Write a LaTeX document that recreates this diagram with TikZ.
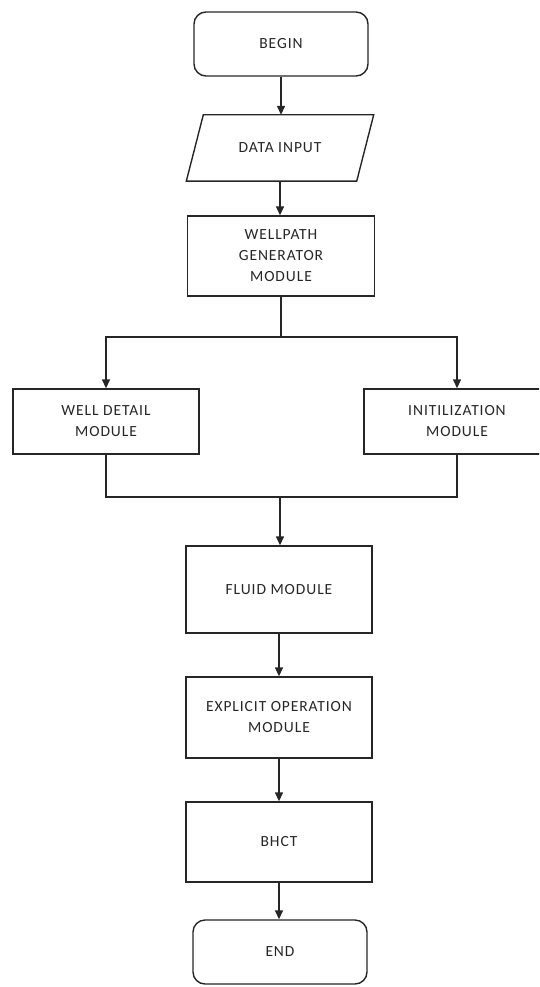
\documentclass[tikz,border=0pt]{standalone}
\usepackage{fontspec}
\setmainfont{Carlito}[LetterSpace=6]
\usetikzlibrary{arrows.meta}
\begin{document}
\begin{tikzpicture}[x=1pt,y=-1pt,
  every node/.style={font=\fontsize{15.5}{21}\selectfont, text=black!85, align=center, inner sep=0pt},
  box/.style={draw=black!85, line width=1.4pt, rectangle},
  term/.style={box, rounded corners=12pt},
  flow/.style={draw=black!85, line width=1.4pt, -{Triangle[width=8pt,length=9pt]}},
  link/.style={draw=black!85, line width=1.4pt}]
\useasboundingbox (0,0) rectangle (539,987);
\clip (0,0) rectangle (539,987);

% main column
\node[term, minimum width=174pt, minimum height=64pt] (begin) at (281,44) {BEGIN};
\node[minimum width=170pt, minimum height=66pt] (input) at (280,148) {DATA INPUT};
\draw[link, line join=miter] ([xshift=8.5pt]input.north west) -- ([xshift=8.5pt]input.north east)
  -- ([xshift=-8.5pt]input.south east) -- ([xshift=-8.5pt]input.south west) -- cycle;
\node[box, minimum width=187pt, minimum height=80pt] (wellpath) at (281,256) {WELLPATH\\GENERATOR\\MODULE};

% branches
\node[box, minimum width=186pt, minimum height=65pt] (detail) at (106,421.5) {WELL DETAIL\\MODULE};
\node[box, minimum width=186pt, minimum height=65pt] (init) at (457,421.5) {INITILIZATION\\MODULE};

% lower column
\node[box, minimum width=186pt, minimum height=87pt] (fluid) at (279,589.5) {FLUID MODULE};
\node[box, minimum width=186pt, minimum height=81pt] (explicit) at (279,717.5) {EXPLICIT OPERATION\\MODULE};
\node[box, minimum width=186pt, minimum height=80pt] (bhct) at (279,842) {BHCT};
\node[term, minimum width=174pt, minimum height=64pt] (end) at (280,952) {END};

% split and merge points
\coordinate (split) at (281,337);
\coordinate (merge) at (280,497);

% connectors
\draw[flow] (begin.south) -- (begin.south |- input.north);
\draw[flow] (input.south) -- (input.south |- wellpath.north);
\draw[link] (wellpath.south) -- (split);
\draw[flow] (split) -| (detail.north);
\draw[flow] (split) -| (init.north);
\draw[link] (detail.south) |- (merge);
\draw[link] (init.south) |- (merge);
\draw[flow] (merge) -- (merge |- fluid.north);
\draw[flow] (fluid.south) -- (explicit.north);
\draw[flow] (explicit.south) -- (bhct.north);
\draw[flow] (bhct.south) -- (bhct.south |- end.north);
\end{tikzpicture}
\end{document}
